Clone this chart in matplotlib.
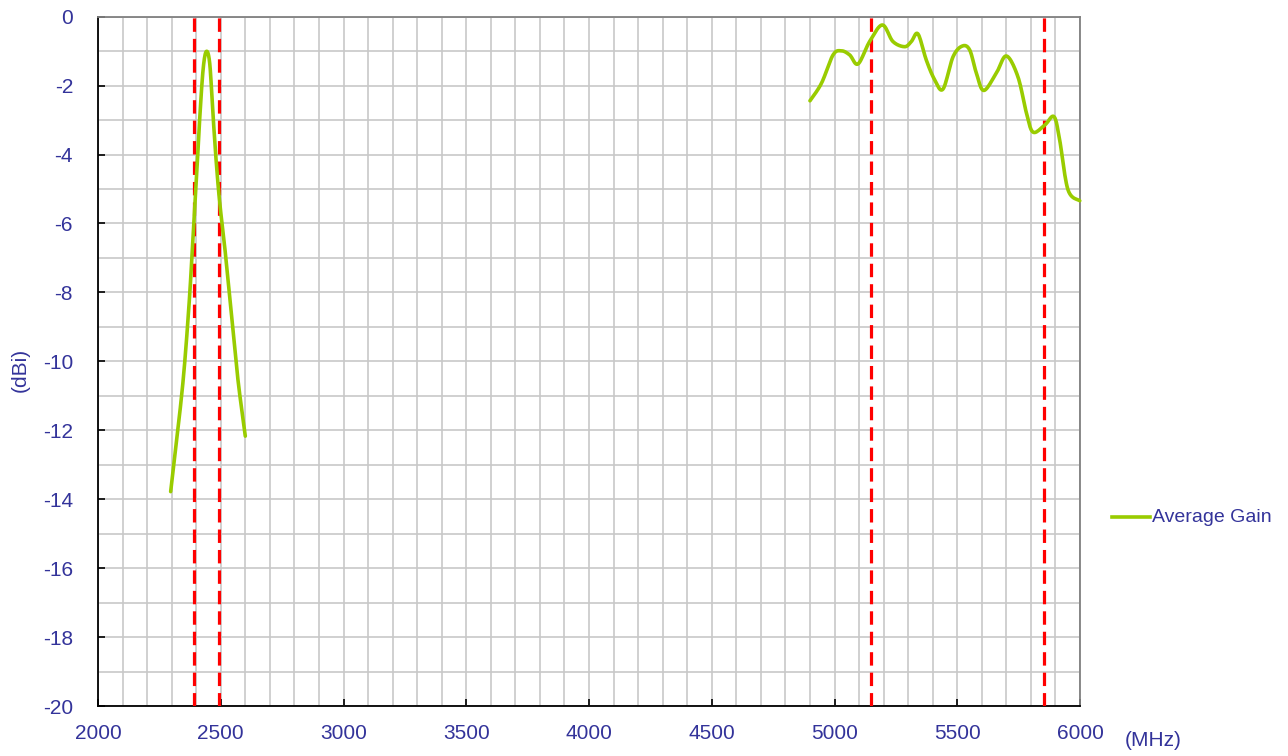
import numpy as np
import matplotlib
matplotlib.use("Agg")
import matplotlib.pyplot as plt
from matplotlib.lines import Line2D

plt.rcParams["font.family"] = ["Liberation Sans", "DejaVu Sans"]

# valores (MHz, dBi)
freq_low = [2296, 2333, 2353, 2373, 2387, 2401, 2414, 2428, 2441, 2455,
            2468, 2482, 2496, 2516, 2543, 2570, 2600]
gain_low = [-13.78, -11.5, -10.05, -8.12, -6.38, -4.73, -2.99, -1.54, -1.01, -1.35,
            -2.8, -4.25, -5.41, -6.67, -8.6, -10.53, -12.17]

freq_high = [4900, 4947, 4994, 5028, 5062, 5096, 5143, 5195, 5238, 5286,
             5313, 5340, 5374, 5408, 5442, 5483, 5521, 5551, 5578, 5608,
             5659, 5700, 5747, 5782, 5809, 5857, 5894, 5917, 5951, 5999]
gain_high = [-2.44, -1.93, -1.11, -0.99, -1.11, -1.37, -0.72, -0.24, -0.72, -0.87,
             -0.72, -0.5, -1.26, -1.83, -2.1, -1.16, -0.85, -0.97, -1.64, -2.14,
             -1.64, -1.14, -1.74, -2.8, -3.35, -3.14, -2.9, -3.57, -5.02, -5.34]

band_edges = [2392, 2492, 5150, 5855]

x_ticks = [2000, 2500, 3000, 3500, 4000, 4500, 5000, 5500, 6000]
y_ticks = [-20, -18, -16, -14, -12, -10, -8, -6, -4, -2, 0]

TXT = "#33339A"
GREEN = "#99CC00"


def smooth(xs, ys, n=12):
    # curva suavizada (Catmull-Rom), como a "linha suavizada" do Excel
    p = np.column_stack([xs, ys]).astype(float)
    p = np.vstack([p[0], p, p[-1]])
    out = []
    t = np.linspace(0, 1, n, endpoint=False)[:, None]
    for i in range(1, len(p) - 2):
        p0, p1, p2, p3 = p[i - 1], p[i], p[i + 1], p[i + 2]
        seg = 0.5 * ((2 * p1) + (-p0 + p2) * t + (2 * p0 - 5 * p1 + 4 * p2 - p3) * t ** 2
                     + (-p0 + 3 * p1 - 3 * p2 + p3) * t ** 3)
        out.append(seg)
    out.append(p[-2][None, :])
    out = np.vstack(out)
    return out[:, 0], out[:, 1]


fig = plt.figure(figsize=(12.88, 7.56), dpi=100)
ax = fig.add_axes([98 / 1288, 1 - 706 / 756, (1080 - 98) / 1288, (706 - 16.7) / 756])

ax.set_xlim(2000, 6000)
ax.set_ylim(-20, 0)
ax.set_xticks(x_ticks)
ax.set_yticks(y_ticks)
ax.set_xticks(np.arange(2000, 6001, 100), minor=True)
ax.set_yticks(np.arange(-20, 1, 1), minor=True)
ax.grid(which="both", color="#C8C8C8", linewidth=1.2)
ax.set_axisbelow(True)
ax.tick_params(which="minor", length=0)
ax.tick_params(which="major", direction="in", length=5, width=1.2, color="black",
               labelcolor=TXT, labelsize=15)
ax.tick_params(axis="y", pad=18)
ax.tick_params(axis="x", pad=13)
ax.set_yticklabels([str(v) for v in y_ticks])

for s in ["left", "bottom"]:
    ax.spines[s].set_color("black")
    ax.spines[s].set_linewidth(1.3)
for s in ["top", "right"]:
    ax.spines[s].set_color("#808080")
    ax.spines[s].set_linewidth(1.3)

for xe in band_edges:
    ax.axvline(xe, color="#FF0000", linewidth=2.3, linestyle=(0, (4.2, 2.2)), zorder=3)

for fx, gy in [(freq_low, gain_low), (freq_high, gain_high)]:
    sx, sy = smooth(fx, gy)
    ax.plot(sx, sy, color=GREEN, linewidth=2.6, solid_capstyle="round", zorder=4,
            clip_on=False)

fig.text(20 / 1288, 1 - 370 / 756, "(dBi)", rotation=90, color=TXT, fontsize=15,
         ha="center", va="center")
fig.text(1153 / 1288, 1 - 740 / 756, "(MHz)", color=TXT, fontsize=15,
         ha="center", va="center")

# legenda
fig.add_artist(Line2D([1112 / 1288, 1150 / 1288], [1 - 517 / 756, 1 - 517 / 756],
                      color=GREEN, linewidth=2.6))
fig.text(1152 / 1288, 1 - 517 / 756, "Average Gain", color=TXT, fontsize=14,
         ha="left", va="center")

fig.savefig("out.png", dpi=100)
